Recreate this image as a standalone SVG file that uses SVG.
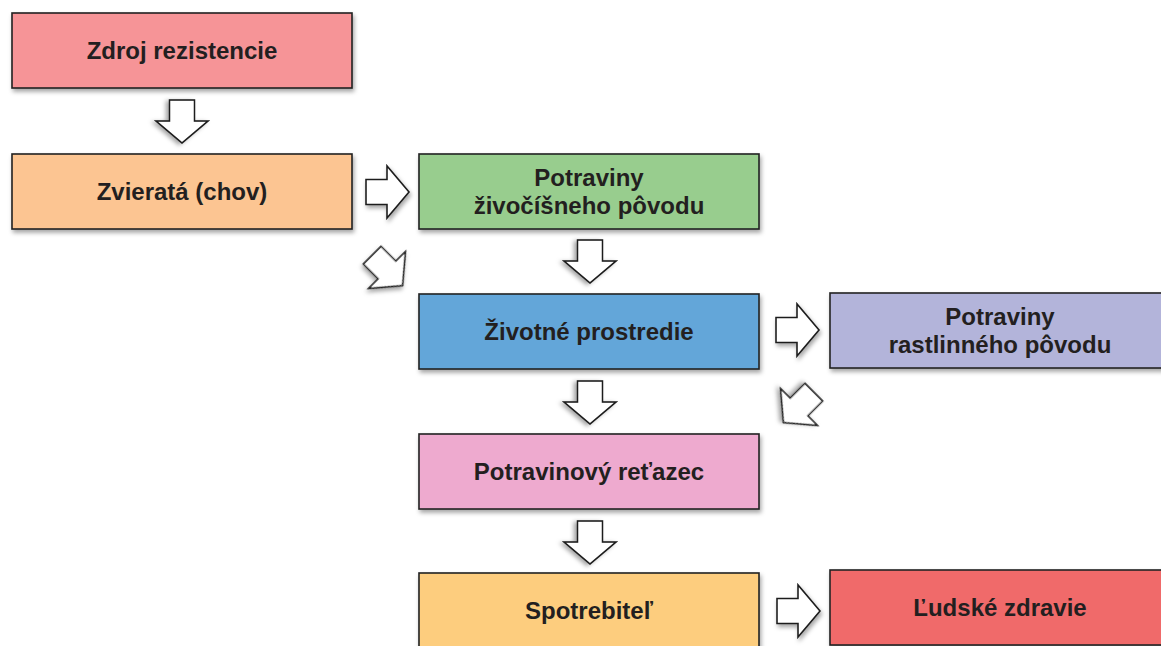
<svg xmlns="http://www.w3.org/2000/svg" width="1161" height="646" viewBox="0 0 1161 646">
<defs>
<filter id="sh" x="-10%" y="-20%" width="125%" height="150%">
<feDropShadow dx="1.5" dy="3" stdDeviation="2" flood-color="#000" flood-opacity="0.35"/>
</filter>
<path id="arr" d="M-21,-12.5 H0 V-26 L22,0 L0,26 V12.5 H-21 Z"/>
</defs>
<style>
.box{stroke:#222;stroke-width:1.6;filter:url(#sh)}
.t{font-family:"Liberation Sans",Arial,sans-serif;font-weight:bold;font-size:24px;fill:#231f20;text-anchor:middle}
.a{fill:#fff;stroke:#1e1e1e;stroke-width:1.6;stroke-linejoin:miter;filter:url(#sh)}
</style>
<rect width="1161" height="646" fill="#fff"/>
<g id="connectors">
<use href="#arr" class="a" transform="translate(182,121) rotate(90)"/>
<use href="#arr" class="a" transform="translate(387,192)"/>
<use href="#arr" class="a" transform="translate(387,270) rotate(45)"/>
<use href="#arr" class="a" transform="translate(590,261) rotate(90)"/>
<use href="#arr" class="a" transform="translate(797,330)"/>
<use href="#arr" class="a" transform="translate(799,407) rotate(135)"/>
<use href="#arr" class="a" transform="translate(590,402) rotate(90)"/>
<use href="#arr" class="a" transform="translate(590,542) rotate(90)"/>
<use href="#arr" class="a" transform="translate(798,611)"/>
</g>
<g id="n1"><rect class="box" x="12" y="13" width="340" height="75" fill="#f69497"/><text class="t" x="182" y="59">Zdroj rezistencie</text></g>
<g id="n2"><rect class="box" x="12" y="154" width="340" height="75" fill="#fcc592"/><text class="t" x="182" y="200">Zvieratá (chov)</text></g>
<g id="n3"><rect class="box" x="419" y="154" width="340" height="75" fill="#98cd8e"/><text class="t" x="589" y="186">Potraviny</text><text class="t" x="589" y="214">živočíšneho pôvodu</text></g>
<g id="n4"><rect class="box" x="419" y="294" width="340" height="75" fill="#63a6d9"/><text class="t" x="589" y="340">Životné prostredie</text></g>
<g id="n5"><rect class="box" x="830" y="293" width="340" height="75" fill="#b3b4da"/><text class="t" x="1000" y="325">Potraviny</text><text class="t" x="1000" y="353">rastlinného pôvodu</text></g>
<g id="n6"><rect class="box" x="419" y="434" width="340" height="75" fill="#eeaacf"/><text class="t" x="589" y="480">Potravinový reťazec</text></g>
<g id="n7"><rect class="box" x="419" y="573" width="340" height="80" fill="#fdcd7e"/><text class="t" x="589" y="619">Spotrebiteľ</text></g>
<g id="n8"><rect class="box" x="830" y="570" width="340" height="75" fill="#f06a6b"/><text class="t" x="1000" y="616">Ľudské zdravie</text></g>
</svg>
